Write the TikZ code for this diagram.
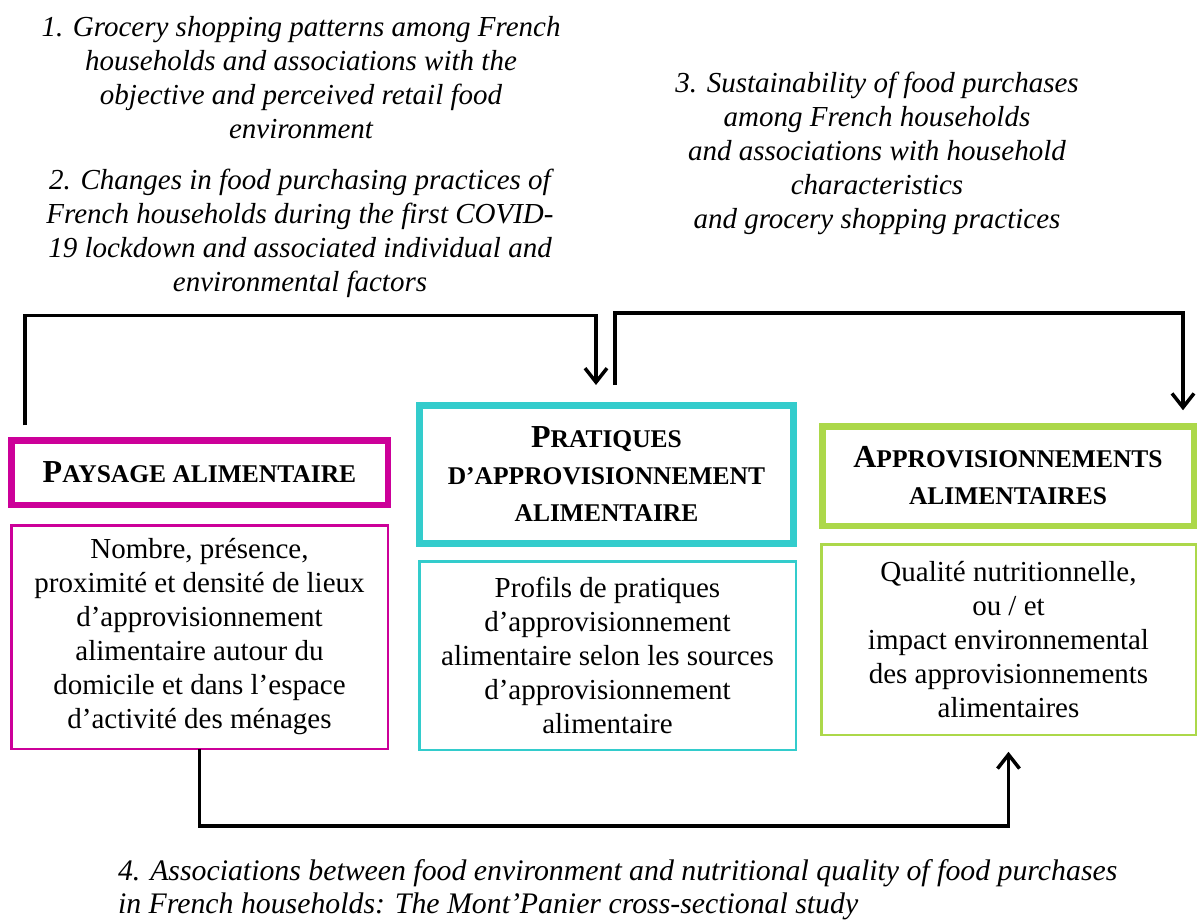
\documentclass[tikz,border=0pt]{standalone}
\usepackage{fontspec}
\setmainfont{Liberation Serif}
\usetikzlibrary{arrows.meta}
\definecolor{paymag}{HTML}{CC0099}
\definecolor{pracyan}{HTML}{33CCCC}
\definecolor{appgreen}{HTML}{ACD84A}
\newcommand{\capsc}[1]{{\fontsize{32}{37}\selectfont #1}}
\begin{document}
\begin{tikzpicture}[x=1pt,y=-1pt,
  every node/.style={outer sep=0pt},
  titlebox/.style={draw, line width=6.5pt, align=center, inner sep=0pt, font=\bfseries\fontsize{25.5}{37}\selectfont},
  descbox/.style={draw, line width=2.5pt, align=center, inner sep=0pt, font=\fontsize{29}{34}\selectfont},
  study/.style={align=center, inner sep=0pt, font=\itshape\fontsize{29}{34}\selectfont},
  flow/.style={line width=3.5pt, -{Straight Barb[length=14pt,width=22pt]}}]
\useasboundingbox (0,0) rectangle (1200,920);
% questions
\node[study] (q1) at (301,77.5) {1. Grocery shopping patterns among French\\ households and associations with the\\ objective and perceived retail food\\ environment};
\node[study] (q2) at (300,233) {2. Changes in food purchasing practices of\\ French households during the first COVID-\\ 19 lockdown and associated individual and\\ environmental factors};
\node[study] (q3) at (877,153.5) {3. Sustainability of food purchases\\ among French households\\ and associations with household\\ characteristics\\ and grocery shopping practices};
\node[study, align=left, anchor=west, font=\itshape\fontsize{29.8}{33}\selectfont] (q4) at (118,890) {4. Associations between food environment and nutritional quality of food purchases\\ in French households: The Mont’Panier cross-sectional study};
% boxes
\node[titlebox, draw=paymag, minimum width=376.5pt, minimum height=64.5pt] (paytitle) at (199.5,472.5) {\capsc{P}AYSAGE ALIMENTAIRE};
\node[descbox, draw=paymag, minimum width=376.5pt, minimum height=223.5pt] (paydesc) at (199.5,637) {Nombre, présence,\\ proximité et densité de lieux\\ d’approvisionnement\\ alimentaire autour du\\ domicile et dans l’espace\\ d’activité des ménages};
\node[titlebox, draw=pracyan, line width=7pt, minimum width=374pt, minimum height=138pt] (pratitle) at (606.5,474.5) {\capsc{P}RATIQUES\\ D’APPROVISIONNEMENT\\ ALIMENTAIRE};
\node[descbox, draw=pracyan, minimum width=376.5pt, minimum height=188.5pt] (pradesc) at (607.5,655.5) {Profils de pratiques\\ d’approvisionnement\\ alimentaire selon les sources\\ d’approvisionnement\\ alimentaire};
\node[titlebox, draw=appgreen, minimum width=371.5pt, minimum height=99.5pt] (apptitle) at (1008,476) {\capsc{A}PPROVISIONNEMENTS\\ ALIMENTAIRES};
\node[descbox, draw=appgreen, minimum width=374.5pt, minimum height=190.5pt] (appdesc) at (1008.5,639.5) {Qualité nutritionnelle,\\ ou / et\\ impact environnemental\\ des approvisionnements\\ alimentaires};
% arrows
\draw[flow] ([xshift=13.75pt,yshift=15pt]paytitle.north west) -- ++(0,-110) -| ([xshift=-10.5pt,yshift=20.5pt]pratitle.north);
\draw[flow] ([xshift=8.5pt,yshift=20.5pt]pratitle.north) -- ++(0,-72) -| ([xshift=175pt,yshift=16pt]apptitle.north);
\draw[flow] (paydesc.south) -- ++(0,77) -| ([yshift=-17pt]appdesc.south);
\end{tikzpicture}
\end{document}
